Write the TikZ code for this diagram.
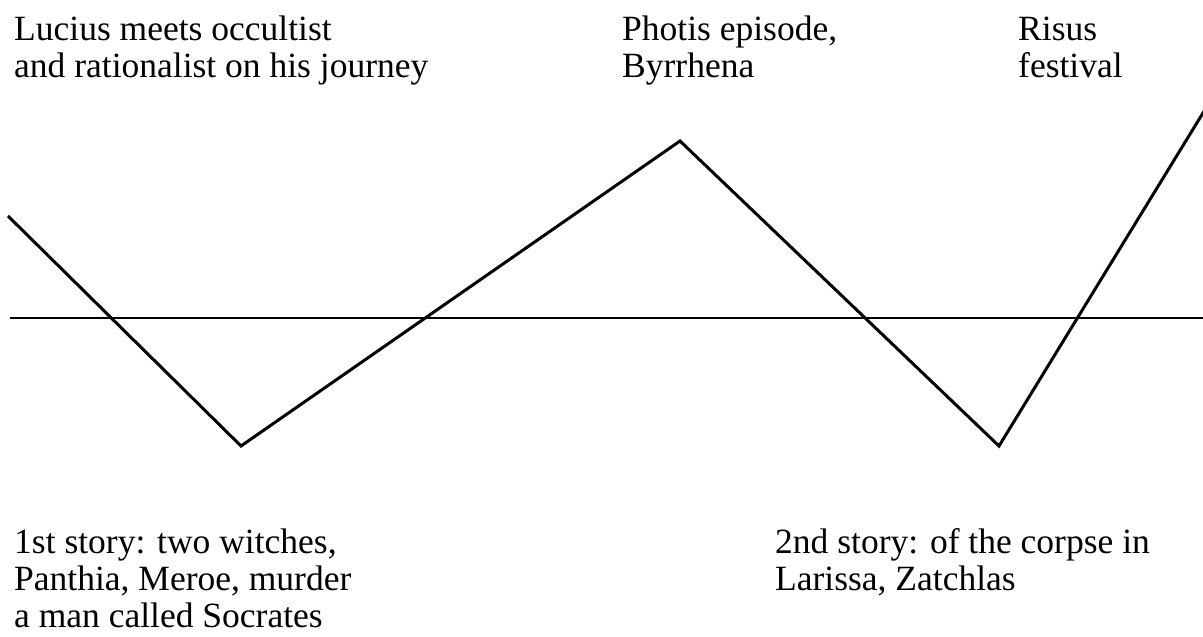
\documentclass[tikz,border=0pt]{standalone}
\usepackage{fontspec}
\setmainfont{Liberation Serif}
\begin{document}
\begin{tikzpicture}[x=1pt,y=-1pt,
  label text/.style={anchor=base west,inner sep=0pt,align=left,
    font=\fontsize{35.5}{37}\selectfont},
  zigzag/.style={line width=3pt,line join=miter},
  axis/.style={line width=1.6pt}]
\useasboundingbox (0,0) rectangle (1203,637);
\fill[white] (0,0) rectangle (1203,637);

% turning points of the zigzag
\coordinate (start) at (8,216);
\coordinate (low1) at (241,446);
\coordinate (peak) at (680,141);
\coordinate (low2) at (999,446);
\coordinate (finish) at (1206,108);

% baseline
\coordinate (axisL) at (10,318);
\coordinate (axisR) at (1203,318);
\draw[axis] (axisL) -- (axisR);

\draw[zigzag] (start) -- (low1) -- (peak) -- (low2) -- (finish);

% labels above (placed by the baseline of their last line)
\node[label text] (lucius) at (14,77) {Lucius meets occultist\\and rationalist on his journey};
\node[label text] (photis) at (622,77) {Photis episode,\\Byrrhena};
\node[label text] (risus) at (1018,77) {Risus\\festival};

% labels below
\node[label text] (story1) at (14,627) {1st story: two witches,\\Panthia, Meroe, murder\\a man called Socrates};
\node[label text] (story2) at (775,590) {2nd story: of the corpse in\\Larissa, Zatchlas};
\end{tikzpicture}
\end{document}
